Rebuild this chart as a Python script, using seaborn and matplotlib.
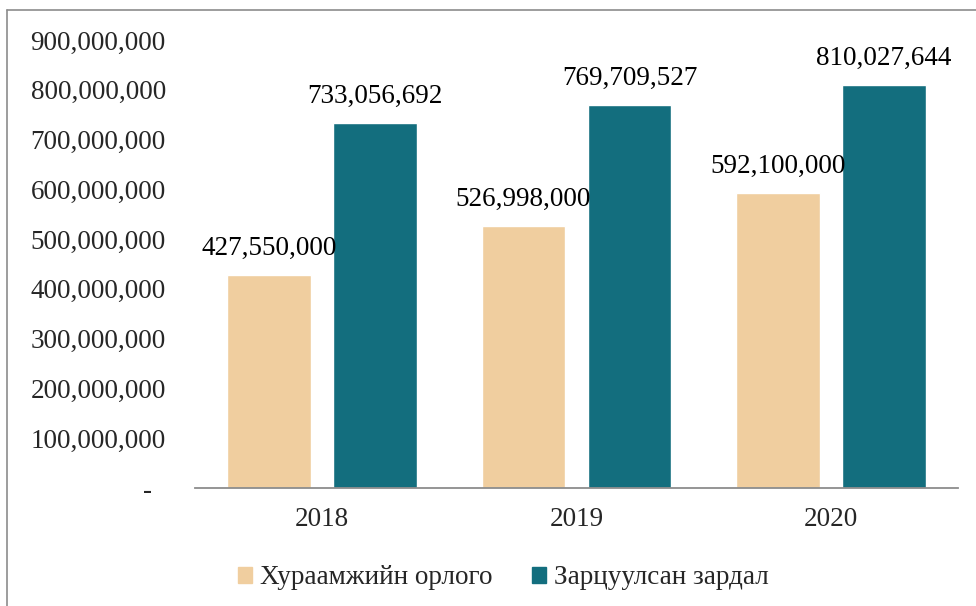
import matplotlib
matplotlib.use("Agg")
import matplotlib.pyplot as plt
import matplotlib.lines as mlines
import seaborn as sns
import pandas as pd

years = ["2018", "2019", "2020"]
series_names = ["Хураамжийн орлого", "Зарцуулсан зардал"]
income = [427550000, 526998000, 592100000]
expense = [733056692, 769709527, 810027644]
ytick_values = [0, 100000000, 200000000, 300000000, 400000000,
                500000000, 600000000, 700000000, 800000000, 900000000]
colors = ["#F0CE9F", "#136E7E"]

df = pd.DataFrame({
    "year": years * 2,
    "series": [series_names[0]] * 3 + [series_names[1]] * 3,
    "value": income + expense,
})

sns.set_theme(style="white")
plt.rcParams["font.family"] = ["Liberation Serif", "DejaVu Serif"]
FS = 19.5

fig = plt.figure(figsize=(9.76, 6.06), dpi=100)
ax = fig.add_axes([195 / 976, 1 - 488 / 606, (958 - 195) / 976, (488 - 40) / 606])

sns.barplot(data=df, x="year", y="value", hue="series", order=years,
            hue_order=series_names, palette=colors, width=0.834, gap=0.21,
            saturation=1, ax=ax, legend=True)

ax.set_ylim(0, 900000000)
ax.set_yticks(ytick_values)
ax.set_yticklabels(["-  "] + [f"{v:,}" for v in ytick_values[1:]], fontsize=FS)
ax.tick_params(axis="y", length=0, pad=21)
ax.tick_params(axis="x", length=0, pad=14, labelsize=FS)
ax.set_xlabel("")
ax.set_ylabel("")
for s in ["top", "right", "left"]:
    ax.spines[s].set_visible(False)
ax.spines["bottom"].set_color("#8C8C8C")
ax.spines["bottom"].set_linewidth(1.3)
ax.grid(False)

for cont in ax.containers:
    for bar in cont:
        h = bar.get_height()
        ax.annotate(f"{int(h):,}", (bar.get_x() + bar.get_width() / 2, h),
                    xytext=(0, 10), textcoords="offset points",
                    ha="center", va="bottom", fontsize=FS, color="black")

leg = ax.get_legend()
if leg is not None:
    leg.remove()
handles = [plt.Rectangle((0, 0), 1, 1, color=c) for c in colors]
fig.legend(handles, series_names, loc="center", ncol=2,
           bbox_to_anchor=(503 / 976, 1 - 578 / 606), frameon=False,
           fontsize=FS, handlelength=0.52, handleheight=0.52,
           handletextpad=0.3, columnspacing=1.45)

# outer chart border (top and left visible)
fig.add_artist(mlines.Line2D([7 / 976, 1.0], [1 - 10 / 606, 1 - 10 / 606],
                             transform=fig.transFigure, color="#8C8C8C", lw=1.2))
fig.add_artist(mlines.Line2D([7 / 976, 7 / 976], [0.0, 1 - 10 / 606],
                             transform=fig.transFigure, color="#8C8C8C", lw=1.2))

fig.savefig("out.png", dpi=100)
